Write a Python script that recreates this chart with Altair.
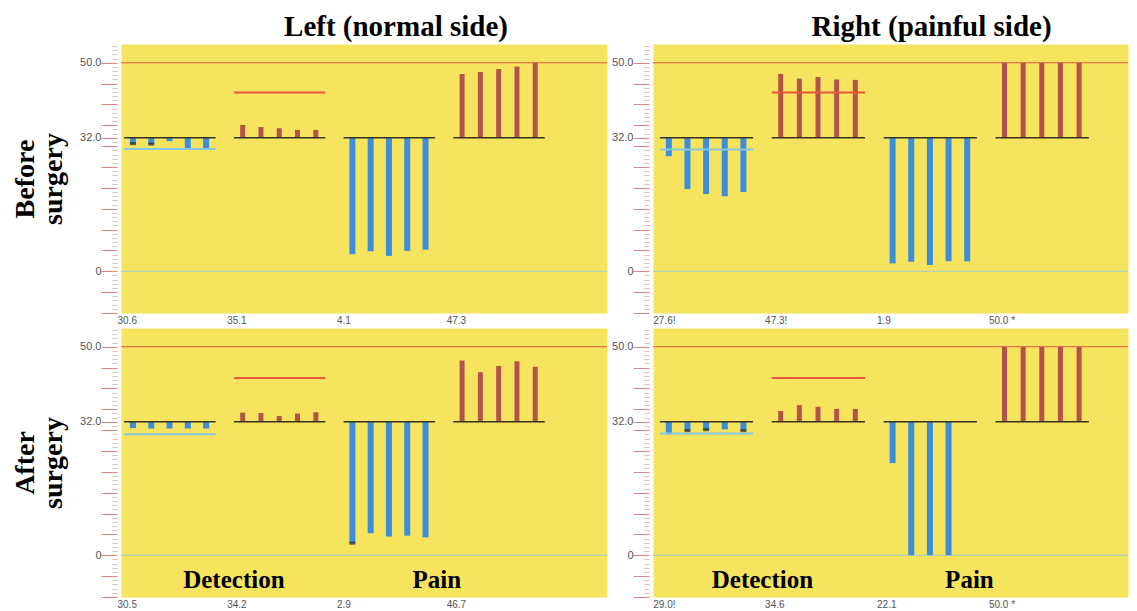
import altair as alt
import pandas as pd

# ---------------- data ----------------
BASELINE = 32.0

# Top-left: Left (normal side), before surgery
TL_cold_det = [30.6, 30.5, 31.2, 29.3, 29.3]
TL_warm_det = [35.1, 34.6, 34.3, 33.9, 33.9]
TL_cold_pain = [4.1, 4.8, 3.7, 4.9, 5.2]
TL_heat_pain = [47.3, 47.8, 48.5, 49.1, 50.0]
TL_limits = [29.3, 42.9]
TL_labels = ["30.6", "35.1", "4.1", "47.3"]
TL_marked = [(0, 0), (0, 1)]          # (test, trial) with a dark end mark

# Top-right: Right (painful side), before surgery
TR_cold_det = [27.6, 19.7, 18.5, 18.0, 19.0]
TR_warm_det = [47.3, 46.2, 46.6, 46.0, 45.9]
TR_cold_pain = [1.9, 2.3, 1.5, 2.4, 2.4]
TR_heat_pain = [50.0, 50.0, 50.0, 50.0, 50.0]
TR_limits = [29.2, 42.9]
TR_labels = ["27.6!", "47.3!", "1.9", "50.0 *"]
TR_marked = []

# Bottom-left: Left (normal side), after surgery
BL_cold_det = [30.5, 30.4, 30.4, 30.4, 30.4]
BL_warm_det = [34.2, 34.1, 33.4, 34.0, 34.3]
BL_cold_pain = [2.9, 5.3, 4.5, 4.7, 4.3]
BL_heat_pain = [46.7, 43.9, 45.4, 46.5, 45.2]
BL_limits = [29.0, 42.5]
BL_labels = ["30.5", "34.2", "2.9", "46.7"]
BL_marked = [(2, 0)]

# Bottom-right: Right (painful side), after surgery
BR_cold_det = [29.0, 29.9, 30.1, 30.2, 29.9]
BR_warm_det = [34.6, 36.0, 35.6, 35.1, 35.1]
BR_cold_pain = [22.1, 0.0, 0.0, 0.0]
BR_heat_pain = [50.0, 50.0, 50.0, 50.0, 50.0]
BR_limits = [29.2, 42.5]
BR_labels = ["29.0!", "34.6", "22.1", "50.0 *"]
BR_marked = [(0, 1), (0, 2), (0, 4)]

COL_TITLES = ["Left (normal side)", "Right (painful side)"]
ROW_TITLES = [["Before", "surgery"], ["After", "surgery"]]
ANNOT_TEXT = ["Detection", "Pain"]
ANNOT_X_LEFT = [5.9, 17.0]
ANNOT_X_RIGHT = [5.4, 16.5]
ANNOT_Y = -6.0

# ---------------- styling ----------------
YELLOW = "#f7e45e"
BLUE = "#3b8edb"
RED = "#b35349"
CYAN = "#86c6e6"
ORANGE = "#e8573c"
DARK = "#33331f"
SERIF = "Liberation Serif"
SANS = "Liberation Sans"
W_LEFT, W_RIGHT, H = 486, 475, 269
UNIT_LEFT, UNIT_RIGHT = 18.67, 19.05      # pixels per slot
X0_LEFT, X0_RIGHT = 0.0, -0.2             # slot value at the plot's left edge
GROUP_STEP = 6
KINDS = ["cold", "warm", "cold", "warm"]


def y_axis(row_title):
    major = "datum.value % 5 === 0 || datum.value === 32"
    kw = dict(
        values=list(range(-10, 55)),
        labelExpr="datum.value === 50 ? '50.0' : datum.value === 32 ? '32.0' : datum.value === 0 ? '0' : ''",
        labelOverlap=False,
        labelFlush=False,
        grid=False,
        domain=False,
        tickSize={"condition": {"test": major, "value": 16}, "value": 5},
        tickColor={"condition": {"test": major, "value": "#e38585"}, "value": "#ecb9b9"},
        tickWidth=1,
        labelPadding=0,
        labelFont=SANS,
        labelFontSize=11,
        labelColor="#555555",
        offset=4,
    )
    if row_title:
        kw.update(
            title=row_title,
            titleFont=SERIF,
            titleFontSize=28,
            titleFontWeight="bold",
            titleColor="black",
            titlePadding=12,
            titleLineHeight=28,
        )
    else:
        kw["title"] = None
    return alt.Axis(**kw)


def x_axis(labels):
    expr = (
        f"datum.value < 3 ? '{labels[0]}' : datum.value < 9 ? '{labels[1]}' : "
        f"datum.value < 15 ? '{labels[2]}' : '{labels[3]}'"
    )
    return alt.Axis(
        values=[g * GROUP_STEP for g in range(4)],
        labelExpr=expr,
        title=None,
        grid=False,
        domain=False,
        ticks=False,
        labelAlign="left",
        labelOffset=-9,
        labelPadding=2,
        labelFont=SANS,
        labelFontSize=10,
        labelColor="#555555",
        labelFlush=False,
        labelOverlap=False,
    )


def make_panel(groups, limits, labels, marked, row_title, col_title, title_dx, annot_x,
               width, unit, x0):
    xs = alt.Scale(domain=[x0, x0 + width / unit], nice=False, zero=False)
    ys = alt.Scale(domain=[-10, 54.5], nice=False, zero=False)
    X = alt.X("x:Q", scale=xs, axis=x_axis(labels))
    Y = alt.Y("y:Q", scale=ys, axis=y_axis(row_title))

    rows = []
    for g, vals in enumerate(groups):
        for i, v in enumerate(vals):
            rows.append({"x": g * GROUP_STEP + i + 0.38, "y": v, "base": BASELINE,
                         "kind": KINDS[g], "mark": (g, i) in marked})
    bars = pd.DataFrame(rows)

    segs = pd.DataFrame(
        [{"x": g * GROUP_STEP - 0.1, "x2": g * GROUP_STEP + 4.9, "y": BASELINE} for g in range(4)]
    )
    lim_cold = pd.DataFrame([{"x": -0.1, "x2": 4.9, "y": limits[0]}])
    lim_warm = pd.DataFrame([{"x": GROUP_STEP - 0.1, "x2": GROUP_STEP + 4.9, "y": limits[1]}])
    top_line = pd.DataFrame({"y": [50.0]})
    zero_line = pd.DataFrame({"y": [0.0]})

    layers = [
        alt.Chart(zero_line).mark_rule(color=CYAN, strokeWidth=1, opacity=0.8).encode(y=Y),
        alt.Chart(top_line).mark_rule(color=ORANGE, strokeWidth=1).encode(y=Y),
        alt.Chart(bars[bars.kind == "cold"]).mark_bar(color=BLUE, size=6).encode(
            x=X, y=Y, y2="base:Q"
        ),
        alt.Chart(bars[bars.kind == "warm"]).mark_bar(color=RED, size=5).encode(
            x=X, y=Y, y2="base:Q"
        ),
        alt.Chart(segs).mark_rule(color=DARK, strokeWidth=1.5, clip=True).encode(x=X, x2="x2:Q", y=Y),
        alt.Chart(lim_cold).mark_rule(color=CYAN, strokeWidth=2, clip=True).encode(x=X, x2="x2:Q", y=Y),
        alt.Chart(lim_warm).mark_rule(color=ORANGE, strokeWidth=2, clip=True).encode(x=X, x2="x2:Q", y=Y),
    ]
    marked_df = bars[bars["mark"]]
    if len(marked_df):
        layers.append(
            alt.Chart(marked_df)
            .mark_tick(orient="horizontal", color="#1f2a33", size=6, thickness=3)
            .encode(x=X, y=Y)
        )
    if annot_x:
        ann = pd.DataFrame({"x": annot_x, "y": [ANNOT_Y] * len(annot_x), "t": ANNOT_TEXT})
        layers.append(
            alt.Chart(ann)
            .mark_text(font=SERIF, fontSize=25, fontWeight="bold", color="black", baseline="middle")
            .encode(x=X, y=Y, text="t:N")
        )
    props = dict(width=width, height=H)
    if col_title:
        props["title"] = alt.Title(
            col_title,
            font=SERIF,
            fontSize=29,
            fontWeight="bold",
            color="black",
            anchor="middle",
            frame="group",
            dx=title_dx,
            offset=-2,
        )
    return alt.layer(*layers).properties(**props)


tl = make_panel([TL_cold_det, TL_warm_det, TL_cold_pain, TL_heat_pain], TL_limits, TL_labels, TL_marked,
                ROW_TITLES[0], COL_TITLES[0], 32, None, W_LEFT, UNIT_LEFT, X0_LEFT)
tr = make_panel([TR_cold_det, TR_warm_det, TR_cold_pain, TR_heat_pain], TR_limits, TR_labels, TR_marked,
                None, COL_TITLES[1], 41, None, W_RIGHT, UNIT_RIGHT, X0_RIGHT)
bl = make_panel([BL_cold_det, BL_warm_det, BL_cold_pain, BL_heat_pain], BL_limits, BL_labels, BL_marked,
                ROW_TITLES[1], None, 0, ANNOT_X_LEFT, W_LEFT, UNIT_LEFT, X0_LEFT)
br = make_panel([BR_cold_det, BR_warm_det, BR_cold_pain, BR_heat_pain], BR_limits, BR_labels, BR_marked,
                None, None, 0, ANNOT_X_RIGHT, W_RIGHT, UNIT_RIGHT, X0_RIGHT)

chart = (
    alt.vconcat(
        alt.hconcat(tl, tr, spacing=3),
        alt.hconcat(bl, br, spacing=3),
        spacing=-3,
    )
    .properties(padding={"top": 4, "left": 3, "right": 0, "bottom": 0}, background="white")
    .configure_view(fill=YELLOW, stroke="transparent")
)

chart.save("out.html", embed_options={"renderer": "svg", "actions": False})
